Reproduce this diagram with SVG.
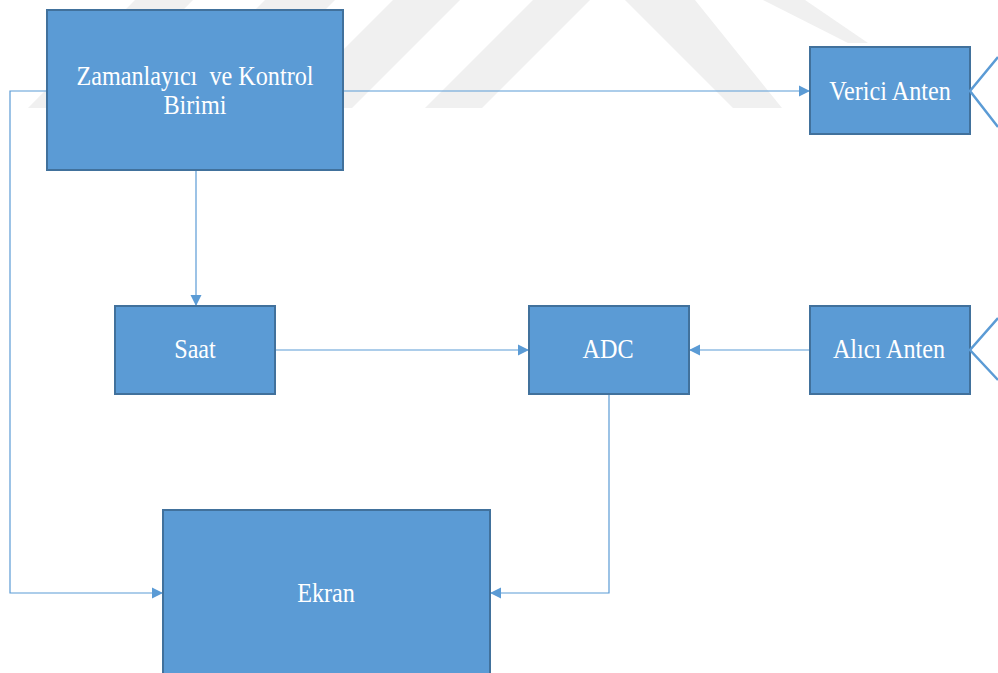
<svg xmlns="http://www.w3.org/2000/svg" width="998" height="673" viewBox="0 0 998 673">
  <defs>
    <style>
      .box { fill: #5b9bd5; stroke: #41719c; stroke-width: 2; }
      .lbl { font-family: 'Liberation Serif', serif; font-size: 27.5px; fill: #ffffff; text-anchor: middle; }
      .wire { fill: none; stroke: #5b9bd5; stroke-width: 1.2; }
      .ant { fill: none; stroke: #5b9bd5; stroke-width: 2.5; }
      .wm { fill: #f0f0f0; }
    </style>
    <marker id="arrow" markerUnits="userSpaceOnUse" markerWidth="12" markerHeight="12" viewBox="0 0 12 12" refX="11" refY="6" orient="auto">
      <path d="M0,0.5 L11,6 L0,11.5 Z" fill="#5b9bd5"/>
    </marker>
  </defs>

  <rect width="998" height="673" fill="#ffffff"/>

  <!-- background stripes -->
  <g id="background">
    <polygon class="wm" points="135,0 193,0 86,108 28,108"/>
    <polygon class="wm" points="265,0 335,0 227,108 157,108"/>
    <polygon class="wm" points="393,0 460,0 352,108 285,108"/>
    <polygon class="wm" points="533,0 590,0 482,108 425,108"/>
    <polygon class="wm" points="625,0 695,0 782,108 733,108"/>
    <polygon class="wm" points="763,0 805,0 868,43 848,43"/>
  </g>

  <!-- connectors -->
  <g id="connectors">
    <path class="wire" d="M343,91 H810" marker-end="url(#arrow)"/>
    <path class="wire" d="M47,91 H10 V593 H163" marker-end="url(#arrow)"/>
    <path class="wire" d="M196,170 V306" marker-end="url(#arrow)"/>
    <path class="wire" d="M275,350 H529" marker-end="url(#arrow)"/>
    <path class="wire" d="M810,350 H689" marker-end="url(#arrow)"/>
    <path class="wire" d="M609,394 V593 H490" marker-end="url(#arrow)"/>
  </g>

  <g font-family="Liberation Serif, serif">
    <g id="timer-control">
      <rect class="box" x="47" y="10" width="296" height="160"/>
      <text class="lbl" font-family="Liberation Serif, serif" transform="translate(195,85) scale(0.88,1)" xml:space="preserve">Zamanlayıcı  ve Kontrol</text>
      <text class="lbl" font-family="Liberation Serif, serif" transform="translate(195,114) scale(0.88,1)">Birimi</text>
    </g>

    <g id="tx-antenna">
      <rect class="box" x="810" y="47" width="160" height="87"/>
      <text class="lbl" font-family="Liberation Serif, serif" transform="translate(890,100) scale(0.88,1)">Verici Anten</text>
      <path class="ant" d="M998,57 L970,91 L998,127"/>
    </g>

    <g id="clock">
      <rect class="box" x="115" y="306" width="160" height="88"/>
      <text class="lbl" font-family="Liberation Serif, serif" transform="translate(195,358) scale(0.88,1)">Saat</text>
    </g>

    <g id="adc">
      <rect class="box" x="529" y="306" width="160" height="88"/>
      <text class="lbl" font-family="Liberation Serif, serif" transform="translate(608,358) scale(0.88,1)">ADC</text>
    </g>

    <g id="rx-antenna">
      <rect class="box" x="810" y="306" width="160" height="88"/>
      <text class="lbl" font-family="Liberation Serif, serif" transform="translate(889,358) scale(0.88,1)">Alıcı Anten</text>
      <path class="ant" d="M998,318 L970,350 L998,380"/>
    </g>

    <g id="display">
      <rect class="box" x="163" y="510" width="327" height="175"/>
      <text class="lbl" font-family="Liberation Serif, serif" transform="translate(326,602) scale(0.88,1)">Ekran</text>
    </g>
  </g>
</svg>
